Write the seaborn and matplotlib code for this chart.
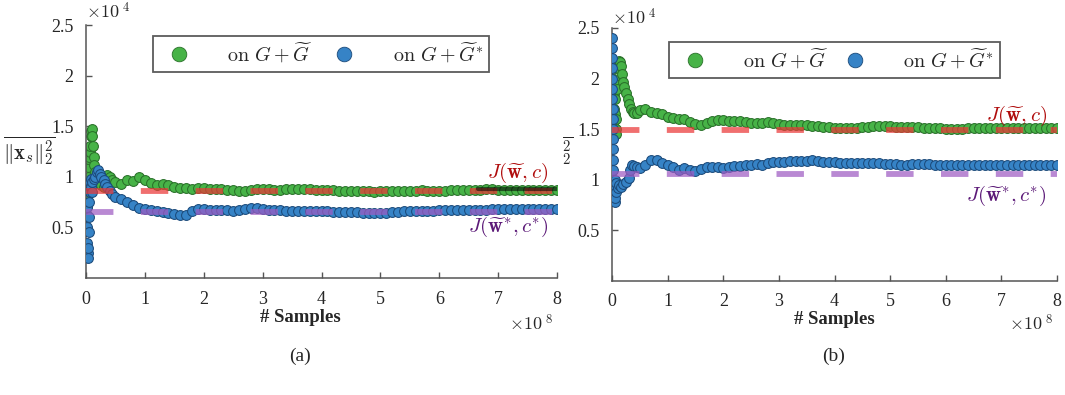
import matplotlib
matplotlib.use('Agg')
import numpy as np
import matplotlib.pyplot as plt
import seaborn as sns
from matplotlib.lines import Line2D

# values in units of 1e4 (y) and 1e8 (x)
x_tail = [0.5, 0.6, 0.7, 0.8, 0.9, 1.0, 1.1, 1.2, 1.3, 1.4, 1.5, 1.6, 1.7, 1.8, 1.9,
          2.0, 2.1, 2.2, 2.3, 2.4, 2.5, 2.6, 2.7, 2.8, 2.9, 3.0, 3.1, 3.2, 3.3, 3.4,
          3.5, 3.6, 3.7, 3.8, 3.9, 4.0, 4.1, 4.2, 4.3, 4.4, 4.5, 4.6, 4.7, 4.8, 4.9,
          5.0, 5.1, 5.2, 5.3, 5.4, 5.5, 5.6, 5.7, 5.8, 5.9, 6.0, 6.1, 6.2, 6.3, 6.4,
          6.5, 6.6, 6.7, 6.8, 6.9, 7.0, 7.1, 7.2, 7.3, 7.4, 7.5, 7.6, 7.7, 7.8, 7.9, 8.0]

# (a) on G + G~
a_green_x0 = [0.01, 0.015, 0.02, 0.025, 0.03, 0.035, 0.04, 0.05, 0.06, 0.07, 0.08, 0.09,
              0.1, 0.11, 0.12, 0.13, 0.14, 0.16, 0.18, 0.2, 0.23, 0.26, 0.3, 0.33, 0.36, 0.4, 0.45]
a_green_y0 = [0.62, 0.7, 0.8, 0.9, 1.0, 1.1, 1.18, 1.2, 1.25, 1.3, 1.4, 1.45,
              1.47, 1.4, 1.3, 1.2, 1.12, 1.05, 1.0, 0.97, 0.94, 0.92, 0.9, 0.95, 1.02, 1.0, 0.97]
a_green_tail = [0.95, 0.93, 0.97, 0.96, 1.0, 0.97, 0.94, 0.92, 0.93, 0.92, 0.9, 0.89, 0.89, 0.88, 0.89,
                0.89, 0.88, 0.88, 0.88, 0.87, 0.87, 0.86, 0.86, 0.87, 0.875, 0.88, 0.875, 0.87, 0.87, 0.875,
                0.88, 0.88, 0.875, 0.88, 0.87, 0.87, 0.865, 0.865, 0.86, 0.86, 0.86, 0.86, 0.855, 0.855, 0.85,
                0.855, 0.86, 0.86, 0.86, 0.86, 0.86, 0.86, 0.865, 0.86, 0.86, 0.86, 0.86, 0.865, 0.865, 0.87,
                0.87, 0.87, 0.87, 0.875, 0.875, 0.87, 0.87, 0.87, 0.87, 0.87, 0.87, 0.87, 0.87, 0.87, 0.87, 0.87]

# (a) on G + G~*
a_blue_x0 = [0.01, 0.015, 0.02, 0.025, 0.03, 0.035, 0.04, 0.045, 0.05, 0.055, 0.06, 0.07, 0.08,
             0.09, 0.1, 0.11, 0.13, 0.15, 0.18, 0.2, 0.23, 0.26, 0.3, 0.33, 0.36, 0.4, 0.45]
a_blue_y0 = [0.9, 0.7, 0.5, 0.35, 0.25, 0.2, 0.3, 0.45, 0.6, 0.75, 0.85, 0.95, 0.98,
             0.9, 0.85, 0.95, 0.98, 1.0, 1.05, 1.07, 1.03, 1.0, 0.97, 0.93, 0.9, 0.86, 0.83]
a_blue_tail = [0.8, 0.78, 0.75, 0.72, 0.69, 0.68, 0.67, 0.66, 0.65, 0.64, 0.63, 0.62, 0.62, 0.66, 0.68,
               0.68, 0.67, 0.67, 0.67, 0.67, 0.665, 0.67, 0.68, 0.69, 0.69, 0.68, 0.675, 0.67, 0.67, 0.665,
               0.665, 0.66, 0.66, 0.66, 0.66, 0.665, 0.66, 0.655, 0.655, 0.655, 0.655, 0.65, 0.645, 0.645, 0.645,
               0.645, 0.645, 0.65, 0.655, 0.66, 0.66, 0.665, 0.665, 0.665, 0.665, 0.67, 0.67, 0.67, 0.67, 0.675,
               0.675, 0.675, 0.675, 0.675, 0.68, 0.68, 0.685, 0.685, 0.68, 0.68, 0.68, 0.68, 0.68, 0.68, 0.68, 0.68]

# (b) on G + G~
b_green_x0 = [0.02, 0.025, 0.03, 0.035, 0.04, 0.045, 0.05, 0.055, 0.06, 0.065, 0.07, 0.08, 0.09,
              0.1, 0.12, 0.14, 0.16, 0.18, 0.2, 0.22, 0.25, 0.28, 0.31, 0.34, 0.37, 0.4, 0.45]
b_green_y0 = [1.42, 1.55, 1.7, 1.85, 2.0, 2.1, 1.95, 1.8, 1.65, 1.5, 1.45, 1.6, 1.9,
              2.1, 2.17, 2.16, 2.12, 2.05, 1.97, 1.92, 1.86, 1.8, 1.75, 1.7, 1.67, 1.66, 1.66]
b_green_tail = [1.69, 1.7, 1.67, 1.66, 1.65, 1.62, 1.61, 1.6, 1.6, 1.57, 1.55, 1.54, 1.56, 1.58, 1.59,
                1.59, 1.585, 1.58, 1.58, 1.57, 1.565, 1.56, 1.565, 1.57, 1.56, 1.55, 1.545, 1.545, 1.545, 1.54,
                1.54, 1.535, 1.53, 1.525, 1.52, 1.515, 1.515, 1.51, 1.51, 1.51, 1.52, 1.525, 1.53, 1.535, 1.535,
                1.53, 1.525, 1.525, 1.52, 1.52, 1.52, 1.515, 1.515, 1.51, 1.51, 1.505, 1.505, 1.505, 1.505, 1.51,
                1.51, 1.51, 1.51, 1.51, 1.515, 1.515, 1.515, 1.515, 1.515, 1.515, 1.515, 1.515, 1.515, 1.51, 1.51, 1.51]

# (b) on G + G~*
b_blue_x0 = [0.0, 0.002, 0.003, 0.005, 0.006, 0.007, 0.008, 0.009, 0.01, 0.011, 0.012, 0.013, 0.015,
             0.017, 0.02, 0.025, 0.03, 0.04, 0.05, 0.04, 0.06, 0.08, 0.06, 0.08, 0.1, 0.13, 0.16, 0.2,
             0.25, 0.3, 0.33, 0.36, 0.4, 0.45]
b_blue_y0 = [2.4, 2.3, 2.2, 2.1, 2.0, 1.9, 1.8, 1.7, 1.6, 1.5, 1.4, 1.3, 1.2,
             1.1, 1.0, 0.9, 0.82, 0.8, 0.78, 0.95, 1.0, 0.97, 0.82, 0.88, 0.92, 0.95, 0.93, 0.96,
             0.98, 1.02, 1.1, 1.15, 1.14, 1.13]
b_blue_tail = [1.12, 1.15, 1.2, 1.2, 1.17, 1.15, 1.13, 1.1, 1.12, 1.1, 1.09, 1.11, 1.13, 1.13, 1.13,
               1.12, 1.13, 1.14, 1.14, 1.15, 1.15, 1.155, 1.15, 1.17, 1.175, 1.18, 1.18, 1.185, 1.185, 1.185,
               1.19, 1.2, 1.19, 1.18, 1.175, 1.175, 1.17, 1.17, 1.17, 1.17, 1.17, 1.17, 1.165, 1.165, 1.16,
               1.16, 1.155, 1.15, 1.15, 1.155, 1.155, 1.155, 1.155, 1.15, 1.15, 1.15, 1.15, 1.15, 1.15, 1.15,
               1.145, 1.145, 1.145, 1.145, 1.145, 1.15, 1.15, 1.15, 1.15, 1.15, 1.15, 1.15, 1.15, 1.15, 1.15, 1.15]

# reference levels J(w,c) and J(w*,c*)
a_ref = [0.863, 0.655]
b_ref = [1.495, 1.058]
a_black_x = [6.65, 8.0]
a_black_y = [0.875, 0.875]

sns.set_style('white')
plt.rcParams['font.family'] = ['Liberation Serif', 'DejaVu Serif']
plt.rcParams['mathtext.fontset'] = 'cm'

GREEN, GREEN_E = '#47b347', '#2a702a'
BLUE, BLUE_E = '#3683c6', '#1b4a7a'
RED = (0.92, 0.22, 0.22)
PURPLE = (0.62, 0.36, 0.76)

fig = plt.figure(figsize=(10.65, 3.95), dpi=100)
W, H = 1065, 395
ax1 = fig.add_axes([86 / W, 1 - 278 / H, 471 / W, 253 / H])
ax2 = fig.add_axes([612 / W, 1 - 281 / H, 445 / W, 253 / H])


def panel(ax, gx, gy, bx, by, ref):
    sns.scatterplot(x=gx, y=gy, ax=ax, color=GREEN, edgecolor=GREEN_E,
                    s=50, linewidth=0.75, legend=False, zorder=2)
    sns.scatterplot(x=bx, y=by, ax=ax, color=BLUE, edgecolor=BLUE_E,
                    s=50, linewidth=0.75, legend=False, zorder=3)
    ax.plot([0, 8], [ref[0], ref[0]], color=RED, alpha=0.72, lw=4.2,
            dashes=(4.7, 4.7), solid_capstyle='butt', zorder=4)
    ax.plot([0, 8], [ref[1], ref[1]], color=PURPLE, alpha=0.72, lw=4.2,
            dashes=(4.7, 4.7), solid_capstyle='butt', zorder=4)
    ax.set_xlim(0, 8)
    ax.set_ylim(0, 2.5)
    ax.set_xticks(range(9))
    ax.set_xticklabels([str(i) for i in range(9)])
    ax.set_yticks([0.5, 1, 1.5, 2, 2.5])
    ax.set_yticklabels(['0.5', '1', '1.5', '2', '2.5'])
    ax.tick_params(direction='in', length=4, width=1, color='#555555',
                   labelsize=13, left=True, bottom=True)
    ax.tick_params(axis='y', pad=9)
    ax.tick_params(axis='x', pad=9)
    for s in ['top', 'right']:
        ax.spines[s].set_visible(False)
    for s in ['left', 'bottom']:
        ax.spines[s].set_color('#555555')
        ax.spines[s].set_linewidth(1.1)
    ax.set_xlabel('')
    ax.set_ylabel('')
    handles = [Line2D([], [], ls='none', marker='o', markersize=10.5, markerfacecolor=GREEN,
                      markeredgecolor=GREEN_E, markeredgewidth=0.6),
               Line2D([], [], ls='none', marker='o', markersize=10.5, markerfacecolor=BLUE,
                      markeredgecolor=BLUE_E, markeredgewidth=0.6)]
    labels = [r'$\mathrm{on}\ G+\widetilde{G}$', r'$\mathrm{on}\ G+\widetilde{G}^{*}$']
    return handles, labels


h, l = panel(ax1, a_green_x0 + x_tail, a_green_y0 + a_green_tail,
             a_blue_x0 + x_tail, a_blue_y0 + a_blue_tail, a_ref)
ax1.plot(a_black_x, a_black_y, color='black', alpha=0.55, lw=3, zorder=5)
leg1 = ax1.legend(h, l, loc='upper left', bbox_to_anchor=(0.142, 0.957, 0.714, 0.0),
                  mode='expand', ncol=2, fontsize=14.5, frameon=True, fancybox=False,
                  edgecolor='#333333', handletextpad=1.4, columnspacing=2.2,
                  borderpad=0.3, borderaxespad=0)
leg1.get_frame().set_linewidth(1.3)

h, l = panel(ax2, b_green_x0 + x_tail, b_green_y0 + b_green_tail,
             b_blue_x0 + x_tail, b_blue_y0 + b_blue_tail, b_ref)
leg2 = ax2.legend(h, l, loc='upper left', bbox_to_anchor=(0.128, 0.945, 0.744, 0.0),
                  mode='expand', ncol=2, fontsize=14.5, frameon=True, fancybox=False,
                  edgecolor='#333333', handletextpad=1.4, columnspacing=2.2,
                  borderpad=0.3, borderaxespad=0)
leg2.get_frame().set_linewidth(1.3)

# reference-level labels
ax1.text(7.85, 1.04, r'$J(\widetilde{\mathbf{w}},c)$', color='#b00d0d', fontsize=15,
         ha='right', va='center')
ax1.text(7.85, 0.5, r'$J(\widetilde{\mathbf{w}}^{*},c^{*})$', color='#5c1a78', fontsize=15,
         ha='right', va='center')
ax2.text(7.82, 1.63, r'$J(\widetilde{\mathbf{w}},c)$', color='#b00d0d', fontsize=15,
         ha='right', va='center')
ax2.text(7.82, 0.84, r'$J(\widetilde{\mathbf{w}}^{*},c^{*})$', color='#5c1a78', fontsize=15,
         ha='right', va='center')

# multipliers
for x0, y0 in [(86, 12), (612, 18)]:
    fig.text(x0 / W, 1 - y0 / H, r'$\times 10^{\ 4}$', fontsize=13, ha='left', va='center')
for x1 in [553, 1053]:
    fig.text(x1 / W, 1 - 324 / H, r'$\times 10^{\ 8}$', fontsize=13, ha='right', va='center')

# axis titles; the second panel only shows the cut-off tail of its label
fig.text(3 / W, 1 - 151 / H, r'$\overline{\|\mathbf{x}_s\|_2^2}$', fontsize=15, ha='left', va='center')
fig.text(574 / W, 1 - 151 / H, r'$\overline{{}_2^2}$', fontsize=15, ha='right', va='center')
fig.text(300 / W, 1 - 318 / H, '# Samples', fontsize=13.5, fontweight='bold', ha='center', va='center')
fig.text(834 / W, 1 - 320 / H, '# Samples', fontsize=13.5, fontweight='bold', ha='center', va='center')

fig.text(300 / W, 1 - 356 / H, '(a)', fontsize=14, ha='center', va='center')
fig.text(834 / W, 1 - 356 / H, '(b)', fontsize=14, ha='center', va='center')

fig.savefig('out.png', dpi=100, facecolor='white')
